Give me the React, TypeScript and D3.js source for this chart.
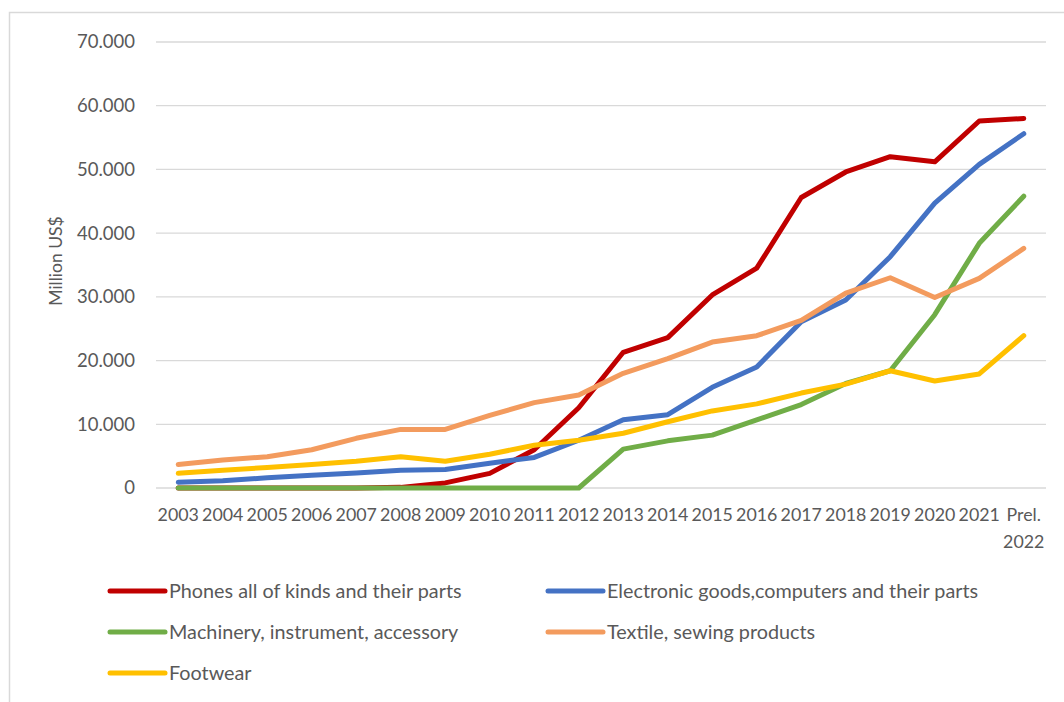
import React from "react";
import * as d3 from "d3";

const years = ["2003","2004","2005","2006","2007","2008","2009","2010","2011","2012","2013","2014","2015","2016","2017","2018","2019","2020","2021","Prel. 2022"];
const phones = [0,0,0,0,0,100,800,2300,6000,12600,21300,23600,30300,34500,45600,49600,52000,51200,57600,58000];
const electronics = [900,1150,1600,2000,2350,2800,2900,3900,4800,7500,10700,11500,15800,19000,26100,29500,36300,44700,50800,55600];
const machinery = [0,0,0,0,0,0,0,0,0,0,6100,7400,8300,10700,13100,16400,18400,27200,38400,45800];
const textile = [3700,4400,4900,6000,7800,9200,9200,11400,13400,14600,18000,20300,22900,23900,26300,30600,33000,29900,32900,37600];
const footwear = [2300,2800,3200,3700,4200,4900,4200,5300,6700,7500,8600,10400,12100,13200,14900,16300,18400,16800,17900,23900];
const yTicks = [0,10000,20000,30000,40000,50000,60000,70000];

const seriesNames = ["Phones all of kinds and their parts","Electronic goods,computers and their parts","Machinery, instrument, accessory","Textile, sewing products","Footwear"];
const seriesColors = ["#C00000","#4472C4","#70AD47","#F39B5E","#FFC000"];
const seriesValues = [phones, electronics, machinery, textile, footwear];

const FONT = "Lato, 'Open Sans', sans-serif";
const TXT = "#595959";

export default function App() {
  const W = 1064, H = 702;
  const x = d3.scaleBand<string>().domain(years).range([156, 1046]);
  const y = d3.scaleLinear().domain([0, 70000]).range([488, 42]);
  const loc = d3.formatLocale({ decimal: ",", thousands: ".", grouping: [3], currency: ["", ""] });
  const fmt = loc.format(",.0f");
  const line = d3.line<number>()
    .x((_, i) => (x(years[i]) as number) + x.bandwidth() / 2)
    .y((v) => y(v));

  const legendPos = [
    { sx: 110, row: 0 }, { sx: 548, row: 0 },
    { sx: 110, row: 1 }, { sx: 548, row: 1 },
    { sx: 110, row: 2 },
  ];
  const rowY = [591, 632, 673];

  return (
    <svg width={W} height={H} style={{ position: "absolute", left: 0, top: 0, background: "#fff" }} fontFamily={FONT}>
      <rect x={0} y={0} width={W} height={H} fill="#fff" />
      <path d={`M9.5,${H} V12.5 H${W}`} fill="none" stroke="#D9D9D9" strokeWidth={1.5} />
      {yTicks.map((t) => (
        <g key={t}>
          <line x1={156} x2={1046} y1={y(t)} y2={y(t)} stroke="#D9D9D9" strokeWidth={1.3} />
          <text x={135} y={y(t)} dy="0.35em" textAnchor="end" fontSize={18.5} fill={TXT}>{fmt(t)}</text>
        </g>
      ))}
      <text transform={`translate(56,261) rotate(-90)`} textAnchor="middle" dy="0.35em" fontSize={17.5} fill={TXT}>Million US$</text>
      {years.map((yr) => {
        const cx = (x(yr) as number) + x.bandwidth() / 2;
        const parts = yr.split(" ");
        return (
          <text key={yr} x={cx} y={515} textAnchor="middle" fontSize={17.8} fill={TXT}>
            {parts.map((p, i) => (
              <tspan key={i} x={cx} dy={i === 0 ? "0.35em" : 27}>{p}</tspan>
            ))}
          </text>
        );
      })}
      {seriesValues.map((vals, i) => (
        <path key={i} d={line(vals) || ""} fill="none" stroke={seriesColors[i]} strokeWidth={5}
          strokeLinejoin="round" strokeLinecap="round" />
      ))}
      {seriesNames.map((n, i) => {
        const p = legendPos[i];
        const ly = rowY[p.row];
        return (
          <g key={n}>
            <line x1={p.sx} x2={p.sx + 55} y1={ly} y2={ly} stroke={seriesColors[i]} strokeWidth={5} strokeLinecap="round" />
            <text x={p.sx + 59} y={ly} dy="0.35em" fontSize={19.8} fill={TXT}>{n}</text>
          </g>
        );
      })}
    </svg>
  );
}
